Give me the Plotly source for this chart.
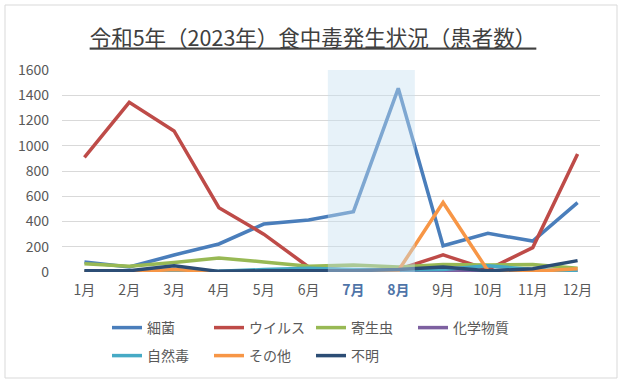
import plotly.graph_objects as go

months = ["1月", "2月", "3月", "4月", "5月", "6月", "7月", "8月", "9月", "10月", "11月", "12月"]
tick_text = ["1月", "2月", "3月", "4月", "5月", "6月",
             "<b><span style='color:#4f74a8'>7月</span></b>",
             "<b><span style='color:#4f74a8'>8月</span></b>",
             "9月", "10月", "11月", "12月"]

bacteria = [80, 40, 135, 222, 380, 412, 478, 1455, 208, 306, 245, 549]
virus = [908, 1344, 1117, 509, 300, 40, 10, 20, 135, 20, 193, 935]
parasite = [65, 45, 75, 110, 80, 45, 55, 40, 60, 55, 60, 30]
chemical = [0, 0, 2, 0, 2, 0, 5, 0, 10, 5, 2, 0]
natural = [5, 5, 10, 5, 20, 30, 20, 15, 20, 50, 20, 5]
other = [0, 0, 20, 0, 0, 5, 5, 10, 550, 10, 5, 25]
unknown = [10, 10, 50, 5, 10, 10, 10, 20, 40, 10, 25, 90]

series = [
    ("細菌", bacteria, "#4a7ebb", "legend"),
    ("ウイルス", virus, "#be4b48", "legend"),
    ("寄生虫", parasite, "#98b954", "legend"),
    ("化学物質", chemical, "#7d60a0", "legend"),
    ("自然毒", natural, "#46aac5", "legend2"),
    ("その他", other, "#f79646", "legend2"),
    ("不明", unknown, "#2c4d75", "legend2"),
]

fig = go.Figure()
for name, vals, color, lg in series:
    fig.add_trace(go.Scatter(
        x=list(range(len(months))), y=vals, name=name, mode="lines",
        line=dict(color=color, width=3.5), legend=lg,
    ))

L, R, T, B = 62, 24, 70, 111
W, H = 624, 383
pw, ph = W - L - R, H - T - B

def px_x(px):
    return (px - L) / pw

def px_y(py):
    return (H - B - py) / ph

fig.update_layout(
    width=W, height=H,
    margin=dict(l=L, r=R, t=T, b=B, autoexpand=False),
    paper_bgcolor="white", plot_bgcolor="white",
    font=dict(family="Noto Sans CJK JP", size=14, color="#595959"),
    title=dict(
        text="<u>令和5年（2023年）食中毒発生状況（患者数）</u>",
        x=313 / W, xanchor="center", xref="container",
        y=1 - 38 / H, yanchor="middle",
        font=dict(size=21.5, color="#404040"),
    ),
    xaxis=dict(
        tickmode="array", tickvals=list(range(len(months))), ticktext=tick_text,
        range=[-0.5, 11.5], showgrid=False, zeroline=False, showline=False,
        ticks="", ticklabelstandoff=8,
    ),
    yaxis=dict(
        range=[0, 1600], tickmode="array", tickvals=[0, 200, 400, 600, 800, 1000, 1200, 1400, 1600],
        showgrid=True, gridcolor="#d9d9d9", gridwidth=1, zeroline=False, showline=False,
        ticks="", ticklabelstandoff=12,
    ),
    legend=dict(
        orientation="h", x=px_x(107), xanchor="left", y=px_y(328), yanchor="middle",
        entrywidth=57, font=dict(size=14, color="#595959"), bgcolor="rgba(0,0,0,0)",
    ),
    legend2=dict(
        orientation="h", x=px_x(107), xanchor="left", y=px_y(356), yanchor="middle",
        entrywidth=57, font=dict(size=14, color="#595959"), bgcolor="rgba(0,0,0,0)",
    ),
    showlegend=True,
)

fig.add_shape(type="rect", xref="x", yref="y", x0=5.43, x1=7.37, y0=0, y1=1600,
              fillcolor="rgba(197,224,240,0.42)", line=dict(width=0), layer="above")
fig.add_shape(type="rect", xref="paper", yref="paper",
              x0=px_x(5), x1=px_x(617), y0=px_y(378), y1=px_y(5),
              fillcolor="rgba(0,0,0,0)", line=dict(color="#d9d9d9", width=1), layer="below")

fig.write_html("out.html", config={"displayModeBar": False},
               post_script="document.body.style.margin='0';")
